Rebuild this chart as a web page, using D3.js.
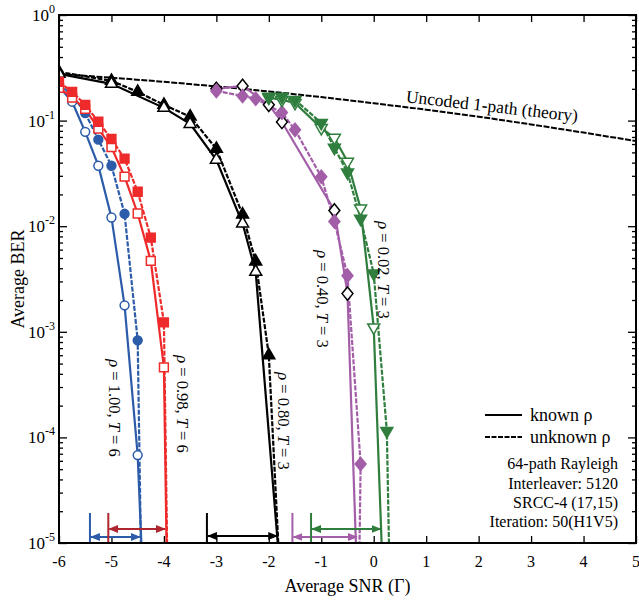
<!DOCTYPE html>
<html>
<head>
<meta charset="utf-8">
<script src="https://cdn.jsdelivr.net/npm/d3@7"></script>
<style>
  body { margin: 0; background: #fff; }
  svg { font-family: "Liberation Serif", "Times New Roman", serif; }
</style>
</head>
<body>
<div id="chart"></div>
<script>
// axis ticks
const xTickValues = [-6, -5, -4, -3, -2, -1, 0, 1, 2, 3, 4, 5]
const yTickExps = [0, -1, -2, -3, -4, -5]

// uncoded 1-path (theory)
const snrUncoded = [-6, -5, -4, -3, -2, -1, 0, 1, 2, 3, 4, 5]
const berUncoded = [0.276, 0.255, 0.233, 0.211, 0.189, 0.167, 0.146, 0.127, 0.109, 0.092, 0.077, 0.064]

// rho = 1.00, T = 6
const snrRho100 = [-6, -5.75, -5.5, -5.25, -5, -4.75, -4.5]
const berRho100Known = [0.21, 0.151, 0.0783, 0.0374, 0.0121, 1.78e-3, 6.8e-5]
const berRho100Unknown = [0.22, 0.175, 0.118, 0.066, 0.0374, 0.0131, 8.3e-4]

// rho = 0.98, T = 6
const snrRho098 = [-6, -5.75, -5.5, -5.25, -5, -4.75, -4.5, -4.25, -4]
const berRho098Known = [0.204, 0.165, 0.129, 0.084, 0.056, 0.0295, 0.0132, 4.7e-3, 4.6e-4]
const berRho098Unknown = [0.233, 0.187, 0.141, 0.0975, 0.067, 0.0436, 0.0212, 7.8e-3, 1.23e-3]

// rho = 0.80, T = 3
const snrRho080Known = [-6, -5, -4, -3.5, -3, -2.5, -2.25]
const berRho080Known = [0.277, 0.223, 0.132, 0.093, 0.0426, 0.0106, 3.7e-3]
const snrRho080Unknown = [-6, -5, -4.5, -4, -3.5, -3, -2.5, -2.25, -2]
const berRho080Unknown = [0.289, 0.238, 0.187, 0.141, 0.109, 0.054, 0.0129, 4.63e-3, 6.0e-4]

// rho = 0.40, T = 3
const snrRho040Known = [-3, -2.5, -2, -1.75, -0.75, -0.5]
const berRho040Known = [0.2, 0.213, 0.141, 0.097, 0.0141, 2.3e-3]
const snrRho040Unknown = [-3, -2.5, -2.25, -1.75, -1.5, -1, -0.75, -0.5, -0.25]
const berRho040Unknown = [0.191, 0.171, 0.161, 0.119, 0.0818, 0.0294, 0.0111, 3.4e-3, 5.6e-5]

// rho = 0.02, T = 3
const snrRho002Known = [-2, -1.75, -1.5, -1, -0.75, -0.5, -0.25, 0]
const berRho002Known = [0.165, 0.157, 0.147, 0.085, 0.0687, 0.0408, 0.0147, 1.1e-3]
const snrRho002Unknown = [-2, -1.75, -1.5, -1, -0.75, -0.5, -0.25, 0, 0.25]
const berRho002Unknown = [0.168, 0.168, 0.157, 0.095, 0.0553, 0.0322, 0.0118, 3.56e-3, 1.15e-4]

// SNR where each curve leaves the bottom of the plot (known, unknown)
const floorSnr = {rho100: [-4.43, -4.44], rho098: [-3.95, -3.94], rho080: [-1.83, -1.82], rho040: [-0.34, -0.27], rho002: [0.15, 0.29]}

// SNR gap brackets at the bottom
const gapNames = ["rho100", "rho098", "rho080", "rho040", "rho002"]
const gapStart = [-5.41, -5.06, -3.18, -1.55, -1.195]
const gapEnd = [-4.44, -3.96, -1.82, -0.30, 0.15]

const colors = {rho100: "#2c5ca9", rho098: "#ee2a2a", rho080: "#000000", rho040: "#a35ea8", rho002: "#2f7e3e"}
const gapColors = {rho100: "#2c5ca9", rho098: "#b0262f", rho080: "#000000", rho040: "#a35ea8", rho002: "#2f7e3e"}

const series = [
    {key: "rho080", kind: "unknown", snr: snrRho080Unknown, ber: berRho080Unknown, shape: "up", fill: true},
    {key: "rho080", kind: "known", snr: snrRho080Known, ber: berRho080Known, shape: "up", fill: false},
    {key: "rho100", kind: "known", snr: snrRho100, ber: berRho100Known, shape: "circle", fill: false},
    {key: "rho100", kind: "unknown", snr: snrRho100, ber: berRho100Unknown, shape: "circle", fill: true},
    {key: "rho098", kind: "known", snr: snrRho098, ber: berRho098Known, shape: "square", fill: false},
    {key: "rho098", kind: "unknown", snr: snrRho098, ber: berRho098Unknown, shape: "square", fill: true},
    {key: "rho040", kind: "known", snr: snrRho040Known, ber: berRho040Known, shape: "diamond", fill: false},
    {key: "rho040", kind: "unknown", snr: snrRho040Unknown, ber: berRho040Unknown, shape: "diamond", fill: true},
    {key: "rho002", kind: "known", snr: snrRho002Known, ber: berRho002Known, shape: "down", fill: false},
    {key: "rho002", kind: "unknown", snr: snrRho002Unknown, ber: berRho002Unknown, shape: "down", fill: true}
]

// create constants
const width = 639
const height = 600
const margin = {top: 15, right: 3, bottom: 57, left: 59}

const svg = d3.select("#chart").append("svg")
              .attr("width", width)
              .attr("height", height)

const x = d3.scaleLinear().domain([-6, 5]).range([margin.left, width - margin.right])
const y = d3.scaleLog().domain([1e-5, 1]).range([height - margin.bottom, margin.top])
const x0 = x.range()[0], x1 = x.range()[1], y0 = y.range()[0], y1 = y.range()[1]

svg.append("clipPath").attr("id", "clip")
   .append("rect").attr("x", x0).attr("y", y1).attr("width", x1 - x0).attr("height", y0 - y1)

// ticks (inward on all four sides)
const yMajor = yTickExps.map(e => Math.pow(10, e))
const yMinor = y.ticks().filter(v => !yMajor.some(m => Math.abs(m - v) / v < 1e-6))
function tickAxis(axis, tx, ty, values, size) {
    svg.append("g")
       .attr("transform", `translate(${tx},${ty})`)
       .call(axis.tickValues(values).tickSize(size).tickFormat(""))
       .call(g => g.select(".domain").remove())
       .selectAll("line").attr("stroke-width", 1.3)
}
tickAxis(d3.axisRight(y), x0, 0, yMajor, 8)
tickAxis(d3.axisRight(y), x0, 0, yMinor, 4)
tickAxis(d3.axisLeft(y), x1, 0, yMajor, 8)
tickAxis(d3.axisLeft(y), x1, 0, yMinor, 4)
tickAxis(d3.axisTop(x), 0, y0, xTickValues, 7)
tickAxis(d3.axisBottom(x), 0, y1, xTickValues, 7)

// tick labels
svg.append("g").selectAll("text")
   .data(xTickValues)
   .join("text")
   .attr("x", d => x(d))
   .attr("y", y0 + 24)
   .attr("text-anchor", "middle")
   .style("font-size", "16px")
   .text(d => d)

const yLabels = svg.append("g").selectAll("text")
   .data(yTickExps)
   .join("text")
   .attr("x", x0 - 4)
   .attr("y", d => y(Math.pow(10, d)) + 6)
   .attr("text-anchor", "end")
   .style("font-size", "17px")
yLabels.append("tspan").text("10")
yLabels.append("tspan").attr("dy", -8).style("font-size", "12px").text(d => d)

// axis titles
svg.append("text")
   .attr("x", (x0 + x1) / 2)
   .attr("y", height - 8)
   .attr("text-anchor", "middle")
   .style("font-size", "18px")
   .text("Average SNR (Γ)")
svg.append("text")
   .attr("transform", `translate(18,${(y0 + y1) / 2}) rotate(-90)`)
   .attr("text-anchor", "middle")
   .attr("dominant-baseline", "central")
   .style("font-size", "18px")
   .text("Average BER")

// curves
const plot = svg.append("g").attr("clip-path", "url(#clip)")
const line = d3.line().x(d => x(d[0])).y(d => y(Math.max(d[1], 1e-6)))

plot.append("path")
    .attr("d", line(d3.zip(snrUncoded, berUncoded)))
    .attr("fill", "none")
    .attr("stroke", "#000")
    .attr("stroke-width", 2)
    .attr("stroke-dasharray", "6,1.5")

const diamond = {
    draw(context, size) {
        const h = Math.sqrt(size) * 0.72, w = h * 0.82
        context.moveTo(0, -h); context.lineTo(w, 0); context.lineTo(0, h); context.lineTo(-w, 0); context.closePath()
    }
}
const symbols = {circle: [d3.symbolCircle, 62], square: [d3.symbolSquare, 78], up: [d3.symbolTriangle, 62], down: [d3.symbolTriangle, 62], diamond: [diamond, 85]}

series.forEach(s => {
    const pts = d3.zip(s.snr, s.ber)
    const tail = floorSnr[s.key][s.kind === "known" ? 0 : 1]
    plot.append("path")
        .attr("d", line(pts.concat([[tail, 1e-5]])))
        .attr("fill", "none")
        .attr("stroke", colors[s.key])
        .attr("stroke-width", 2.2)
        .attr("stroke-dasharray", s.kind === "unknown" ? "5,1.5" : null)
})
series.forEach(s => {
    const [type, size] = symbols[s.shape]
    const edge = s.key === "rho040" && !s.fill ? "#000" : colors[s.key]
    plot.append("g").selectAll("path")
        .data(d3.zip(s.snr, s.ber))
        .join("path")
        .attr("transform", d => `translate(${x(d[0])},${y(d[1])})${s.shape === "down" ? " rotate(180)" : ""}`)
        .attr("d", d3.symbol(type, size))
        .attr("fill", s.fill ? colors[s.key] : "#fff")
        .attr("stroke", edge)
        .attr("stroke-width", 1.5)
})

// gap brackets
const defs = svg.append("defs")
gapNames.forEach(k => {
    defs.append("marker")
        .attr("id", "arrow-" + k)
        .attr("viewBox", "0 0 10 10")
        .attr("refX", 9).attr("refY", 5)
        .attr("markerWidth", 10).attr("markerHeight", 10)
        .attr("markerUnits", "userSpaceOnUse")
        .attr("orient", "auto-start-reverse")
        .append("path").attr("d", "M0,1 L10,5 L0,9 Z").attr("fill", gapColors[k])
})
const gapLevel = {rho100: 6, rho098: 14, rho080: 7, rho040: 6, rho002: 14}
const brackets = svg.append("g")
gapNames.forEach((k, i) => {
    brackets.append("line")
            .attr("x1", x(gapStart[i])).attr("x2", x(gapStart[i]))
            .attr("y1", y0).attr("y2", y0 - 30)
            .attr("stroke", gapColors[k]).attr("stroke-width", 2)
    brackets.append("line")
            .attr("x1", x(gapStart[i]) + 1).attr("x2", x(gapEnd[i]) - 1)
            .attr("y1", y0 - gapLevel[k]).attr("y2", y0 - gapLevel[k])
            .attr("stroke", gapColors[k]).attr("stroke-width", 2)
            .attr("marker-start", `url(#arrow-${k})`)
            .attr("marker-end", `url(#arrow-${k})`)
})

// curve labels (rotated)
const curveLabels = [
    {cx: 115, cy: 408, rho: "1.00", t: "6"},
    {cx: 183, cy: 404, rho: "0.98", t: "6"},
    {cx: 284, cy: 421, rho: "0.80", t: "3"},
    {cx: 323, cy: 299, rho: "0.40", t: "3"},
    {cx: 384, cy: 270, rho: "0.02", t: "3"}
]
curveLabels.forEach(l => {
    const t = svg.append("text")
                 .attr("transform", `translate(${l.cx},${l.cy}) rotate(90)`)
                 .attr("text-anchor", "middle")
                 .attr("dominant-baseline", "central")
                 .style("font-size", "16.5px")
    t.append("tspan").style("font-style", "italic").text("ρ")
    t.append("tspan").text(` = ${l.rho}, `)
    t.append("tspan").style("font-style", "italic").text("T")
    t.append("tspan").text(` = ${l.t}`)
})

svg.append("text")
   .attr("transform", "translate(492,106) rotate(6.5)")
   .attr("text-anchor", "middle")
   .attr("dominant-baseline", "central")
   .style("font-size", "17.5px")
   .text("Uncoded 1-path (theory)")

// legend
const legend = svg.append("g")
const legendRows = [["known ρ", null, 415], ["unknown ρ", "5,1.5", 437]]
legendRows.forEach(([label, dash, ly]) => {
    legend.append("line")
          .attr("x1", 485).attr("x2", 522).attr("y1", ly).attr("y2", ly)
          .attr("stroke", "#000").attr("stroke-width", 2.2)
          .attr("stroke-dasharray", dash)
    legend.append("text")
          .attr("x", 530).attr("y", ly)
          .attr("dominant-baseline", "central")
          .style("font-size", "18px")
          .text(label)
})
const infoLines = ["64-path Rayleigh", "Interleaver: 5120", "SRCC-4 (17,15)", "Iteration: 50(H1V5)"]
const infoY = [463, 483, 502, 521]
infoLines.forEach((txt, i) => {
    legend.append("text")
          .attr("x", 618).attr("y", infoY[i])
          .attr("text-anchor", "end")
          .attr("dominant-baseline", "central")
          .style("font-size", "16px")
          .text(txt)
})

// frame
svg.append("rect")
   .attr("x", x0).attr("y", y1)
   .attr("width", x1 - x0).attr("height", y0 - y1)
   .attr("fill", "none")
   .attr("stroke", "#000")
   .attr("stroke-width", 2)
</script>
</body>
</html>
